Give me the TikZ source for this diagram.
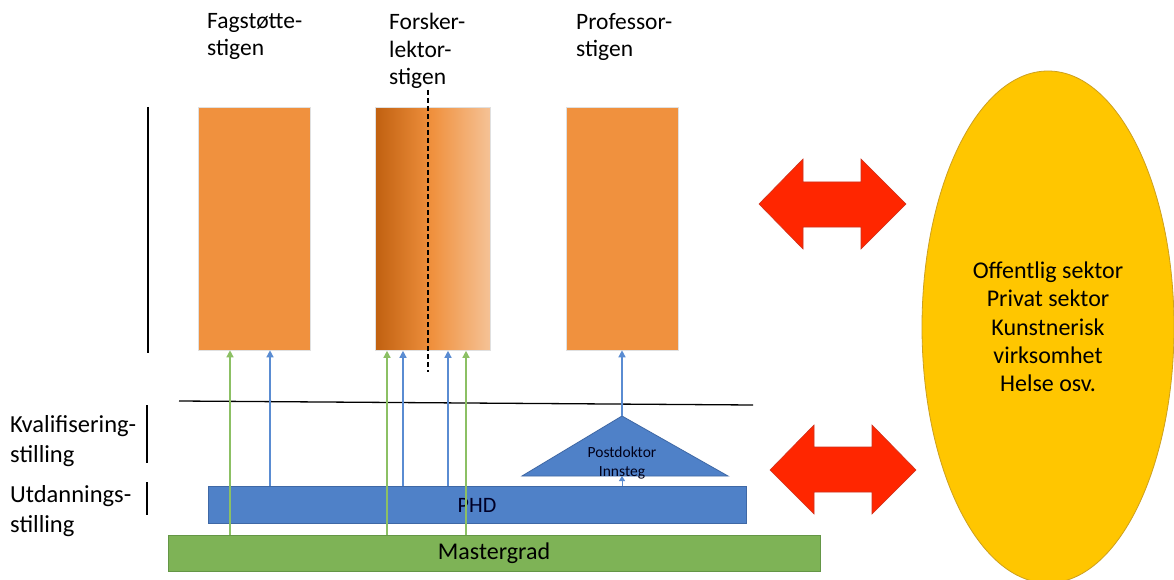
\documentclass[tikz,border=0pt]{standalone}
\usepackage{fontspec}
\setmainfont{Carlito}
\usetikzlibrary{shapes.geometric,arrows.meta}
\definecolor{boxorange}{RGB}{240,145,62}
\definecolor{gradleft}{RGB}{192,96,16}
\definecolor{gradright}{RGB}{245,194,150}
\definecolor{barblue}{RGB}{79,129,200}
\definecolor{barblueline}{RGB}{63,104,165}
\definecolor{bargreen}{RGB}{126,179,86}
\definecolor{bargreenline}{RGB}{100,150,70}
\definecolor{arrgreen}{RGB}{140,192,100}
\definecolor{arrblue}{RGB}{90,140,210}
\definecolor{redarr}{RGB}{255,38,0}
\definecolor{redarrline}{RGB}{205,50,30}
\definecolor{yell}{RGB}{255,198,0}
\definecolor{yellline}{RGB}{205,160,30}
\tikzset{
  ladder/.style={draw=black!12, line width=0.6pt, minimum width=112pt, minimum height=243pt, inner sep=0pt},
  bar/.style={line width=0.8pt, inner sep=0pt},
  up/.style={line width=1.3pt, -{Triangle[length=7pt,width=7pt]}},
  greenup/.style={up, draw=arrgreen, fill=arrgreen},
  blueup/.style={up, draw=arrblue, fill=arrblue},
  heading/.style={anchor=north west, align=left, inner sep=0pt, font=\fontsize{23.5}{27.5}\selectfont},
  sidelabel/.style={anchor=west, align=left, inner sep=0pt, font=\fontsize{24.5}{29.5}\selectfont},
  redshape/.style={fill=redarr, draw=redarrline, line width=0.6pt},
  rule/.style={line width=1.3pt, draw=black}
}
\begin{document}
\begin{tikzpicture}[x=1pt,y=-1pt]
\clip (0,0) rectangle (1174,580);
\fill[white] (0,0) rectangle (1174,580);

% headings
\node[heading] (h1) at (207,13) {Fagstøtte-\\stigen};
\node[heading] (h2) at (389,13) {Forsker-\\lektor-\\stigen};
\node[heading] (h3) at (576,13) {Professor-\\stigen};

% left rule lines
\coordinate (l1a) at (148,107); \coordinate (l1b) at (148,353);
\draw[rule] (l1a) -- (l1b);
\coordinate (l2a) at (147,405); \coordinate (l2b) at (147,463);
\draw[rule] (l2a) -- (l2b);
\coordinate (l3a) at (147,482); \coordinate (l3b) at (147,515);
\draw[rule] (l3a) -- (l3b);

% side labels
\node[sidelabel] (kval) at (10,441) {Kvalifisering-\\stilling};
\node[sidelabel] (utd) at (10,511) {Utdannings-\\stilling};

% ladder boxes
\node[ladder, fill=boxorange] (box1) at (254,228.5) {};
\node[ladder, minimum width=115pt, left color=gradleft, right color=gradright, middle color=boxorange] (box2) at (432.5,229) {};
\node[ladder, fill=boxorange] (box3) at (622,228.5) {};

% dashed divider
\coordinate (da) at (428,90); \coordinate (db) at (428,372);
\draw[black, line width=1.1pt, dash pattern=on 5pt off 3pt] (da) -- (db);

% separating line
\coordinate (sa) at (179,401); \coordinate (sb) at (753,405);
\draw[rule] (sa) -- (sb);

% bars
\node[bar, fill=bargreen, draw=bargreenline, minimum width=652pt, minimum height=36pt,
      font=\fontsize{24}{28}\selectfont] (master) at (494,553) {Mastergrad};
\node[bar, fill=barblue, draw=barblueline, minimum width=538pt, minimum height=37pt,
      font=\fontsize{22}{26}\selectfont, text=black!85!blue] (phd) at (477,505) {PHD};

% postdoc triangle
\coordinate (apex) at (622,416);
\coordinate (tribase) at (622,476);
\draw[fill=barblue, draw=barblueline, line width=0.8pt] (apex) -- (728,476) -- (522,476) -- cycle;

% arrows
\coordinate (g1) at (230,0); \coordinate (b1) at (270,0);
\coordinate (g2) at (387,0); \coordinate (b2) at (403,0);
\coordinate (b3) at (448,0); \coordinate (g3) at (466,0);
\draw[greenup] (master.north -| g1) -- (box1.south -| g1);
\draw[blueup] (phd.north -| b1) -- (box1.south -| b1);
\draw[greenup] (master.north -| g2) -- (box2.south -| g2);
\draw[blueup] (phd.north -| b2) -- (box2.south -| b2);
\draw[blueup] (phd.north -| b3) -- (box2.south -| b3);
\draw[greenup] (master.north -| g3) -- (box2.south -| g3);
\draw[blueup] (apex) -- (box3.south -| apex);
\draw[blueup, line width=1pt, -{Triangle[length=5pt,width=6pt]}] (phd.north -| tribase) -- (tribase);

\node[align=center, inner sep=0pt, font=\fontsize{15.5}{19}\selectfont, text=black!90!blue] (postdoc) at (622,463) {Postdoktor\\Innsteg};

% red double arrows
\draw[redshape] (759,204) -- (803,159) -- (803,182) -- (861,182) -- (861,159) -- (906,204)
  -- (861,249) -- (861,227) -- (803,227) -- (803,249) -- cycle;
\draw[redshape] (770,470) -- (814,425) -- (814,447) -- (872,447) -- (872,425) -- (916,470)
  -- (872,514) -- (872,492) -- (814,492) -- (814,514) -- cycle;

% sector ellipse
\node[ellipse, fill=yell, draw=yellline, line width=0.8pt, minimum width=252pt, minimum height=512pt,
      inner sep=0pt, align=center, font=\fontsize{24}{28.3}\selectfont] (sector) at (1048,327)
  {Offentlig sektor\\Privat sektor\\Kunstnerisk\\virksomhet\\Helse osv.};
\end{tikzpicture}
\end{document}
